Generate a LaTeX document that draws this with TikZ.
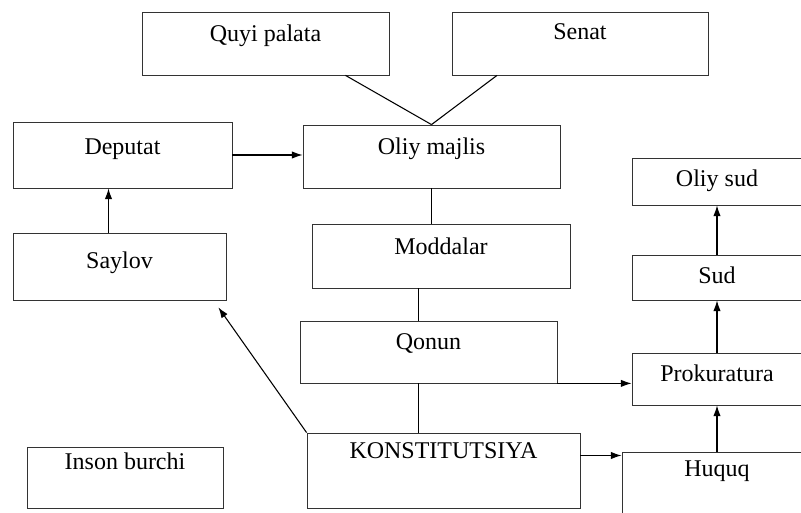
\documentclass[tikz,border=0pt]{standalone}
\usepackage{fontspec}
\setmainfont{Liberation Serif}
\usetikzlibrary{calc,arrows.meta}
\tikzset{
	blok/.style={draw=black!80, line width=0.6pt, inner sep=0pt},
	yozuv/.style={anchor=base, inner sep=0pt, font=\fontsize{18}{22}\selectfont},
	chiziq/.style={line width=0.8pt},
	strelka/.style={line width=0.8pt, -{Latex[length=8pt,width=5.5pt]}},
}
% box: (name)(x1,y1:x2,y2)(baseline of text){text}
\def\blok(#1)(#2,#3:#4,#5)(#6)#7{%
	\node[blok, minimum width={(#4-#2)*0.75pt}, minimum height={(#5-#3)*0.75pt}] (#1) at ({(#2+#4)/2},{(#3+#5)/2}) {};
	\node[yozuv] (#1-t) at ({(#2+#4)/2},#6) {#7};}

\begin{document}
\begin{tikzpicture}[x=0.75pt, y=-0.75pt]
		%%%%% START %%%%%
		\useasboundingbox (0,0) rectangle (801,513);
		\clip (0,0) rectangle (801,513);
		
		\blok(quyi)(142,12:389,75)(42){Quyi palata};
		\blok(senat)(452,12:708,75)(40){Senat};
		
		\blok(deputat)(13,122:232,188)(155){Deputat};
		\blok(majlis)(303,125:560,188)(155){Oliy majlis};
		\blok(oliysud)(632,158:802,205)(187){Oliy sud};
		
		\blok(saylov)(13,233:226,300)(269){Saylov};
		\blok(moddalar)(312,224:570,288)(255){Moddalar};
		\blok(sud)(632,255:802,300)(284){Sud};
		
		\blok(qonun)(300,321:557,383)(350){Qonun};
		\blok(prok)(632,353:802,405)(382){Prokuratura};
		
		\blok(inson)(27,447:223,508)(470){Inson burchi};
		\blok(konst)(307,433:580,508)(459){KONSTITUTSIYA};
		\blok(huquq)(622,452:812,530)(477){Huquq};
		
		% free ends
		\coordinate (mq) at ($(qonun.north)+(-10,0)$);
		\coordinate (qk) at ($(qonun.south)+(-10,0)$);
		\coordinate (kh) at ($(konst.east)+(0,-15)$);
		\coordinate (sd) at ($(saylov.north)+(-11,0)$);
		
		% parliament
		\draw[chiziq] ($(quyi.south)+(80,0)$) -- (majlis.north);
		\draw[chiziq] ($(senat.south)+(-83,0)$) -- (majlis.north);
		\draw[strelka] (deputat.east) -- (deputat.east -| majlis.west);
		\draw[strelka] (sd) -- (sd |- deputat.south);
		
		% middle column
		\draw[chiziq] (majlis.south) -- (majlis.south |- moddalar.north);
		\draw[chiziq] (mq) -- (mq |- moddalar.south);
		\draw[chiziq] (qk) -- (qk |- konst.north);
		\draw[strelka] (qonun.south east) -- (qonun.south east -| prok.west);
		\draw[strelka] (konst.north west) -- ($(saylov.south east)+(-8,7)$);
		\draw[strelka] (kh) -- (kh -| huquq.west);
		
		% courts
		\draw[strelka] (huquq.north) -- (prok.south);
		\draw[strelka] (prok.north) -- (sud.south);
		\draw[strelka] (sud.north) -- (oliysud.south);
		
		%%%%% END %%%%%
\end{tikzpicture}
\end{document}
